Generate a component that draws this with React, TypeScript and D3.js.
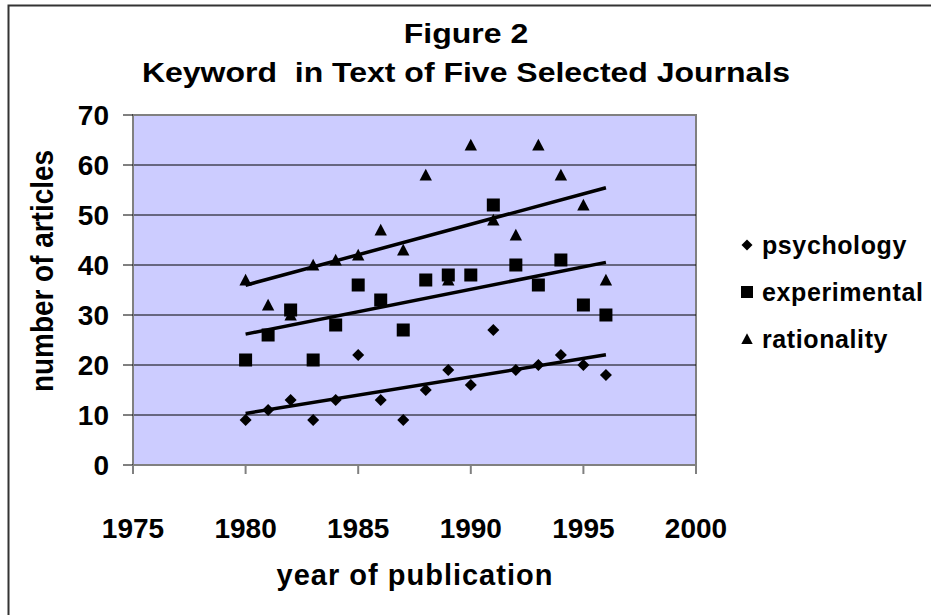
import React from 'react';
import * as d3 from 'd3';

// years on the x axis
const years = [1980, 1981, 1982, 1983, 1984, 1985, 1986, 1987, 1988, 1989, 1990, 1991, 1992, 1993, 1994, 1995, 1996];

// article counts
const psychology = [9, 11, 13, 9, 13, 22, 13, 9, 15, 19, 16, 27, 19, 20, 22, 20, 18];
const experimental = [21, 26, 31, 21, 28, 36, 33, 27, 37, 38, 38, 52, 40, 36, 41, 32, 30];
const rationality = [37, 32, 30, 40, 41, 42, 47, 43, 58, 37, 64, 49, 46, 64, 58, 52, 37];

const xTicks = [1975, 1980, 1985, 1990, 1995, 2000];
const yTicks = [0, 10, 20, 30, 40, 50, 60, 70];
const seriesNames = ['psychology', 'experimental', 'rationality'];

const W = 931;
const H = 615;
const FONT = '"Liberation Sans", Arial, Helvetica, sans-serif';

// least squares trend line
function trend(xs: number[], ys: number[]) {
  const mx = d3.mean(xs) as number;
  const my = d3.mean(ys) as number;
  let num = 0;
  let den = 0;
  xs.forEach((x, i) => {
    num += (x - mx) * (ys[i] - my);
    den += (x - mx) * (x - mx);
  });
  const b = num / den;
  const a = my - b * mx;
  return (x: number) => a + b * x;
}

const Marker: React.FC<{ kind: number; x: number; y: number; s?: number }> = ({ kind, x, y, s = 13 }) => {
  const h = s / 2;
  if (kind === 0) {
    return <path d={`M${x},${y - h}L${x + h},${y}L${x},${y + h}L${x - h},${y}Z`} fill="#000" />;
  }
  if (kind === 1) {
    return <rect x={x - h} y={y - h} width={s} height={s} fill="#000" />;
  }
  return <path d={`M${x},${y - h * 0.95}L${x + h * 0.95},${y + h * 0.85}L${x - h * 0.95},${y + h * 0.85}Z`} fill="#000" />;
};

export default function App() {
  const x = d3.scaleLinear().domain([1975, 2000]).range([133, 696]);
  const y = d3.scaleLinear().domain([0, 70]).range([465, 115]);
  const all = [psychology, experimental, rationality];
  const markerSize = [12, 13, 13];
  const x0 = years[0];
  const x1 = years[years.length - 1];

  return (
    <svg width={W} height={H} style={{ position: 'absolute', left: 0, top: 0, background: '#fff' }} fontFamily={FONT} fontWeight="bold">
      <rect x={8.5} y={5.5} width={1000} height={1000} fill="none" stroke="#333" strokeWidth={2} />

      {/* titles: slightly squat glyphs like the original */}
      <g transform="translate(466,43) scale(1,0.88)">
        <text textAnchor="middle" fontSize={32}>Figure 2</text>
      </g>
      <g transform="translate(466,82) scale(1,0.88)">
        <text textAnchor="middle" fontSize={32} style={{ whiteSpace: 'pre' }}>Keyword  in Text of Five Selected Journals</text>
      </g>

      {/* plot area */}
      <rect x={x(1975)} y={y(70)} width={x(2000) - x(1975)} height={y(0) - y(70)} fill="#ccccff" stroke="#808080" strokeWidth={2} />
      {yTicks.slice(1, -1).map(t => (
        <line key={t} x1={x(1975)} x2={x(2000)} y1={y(t)} y2={y(t)} stroke="#000" strokeWidth={1} />
      ))}

      {/* y axis */}
      <line x1={x(1975)} x2={x(1975)} y1={y(0)} y2={y(70)} stroke="#808080" strokeWidth={2} />
      {yTicks.map(t => (
        <g key={t}>
          <line x1={x(1975) - 10} x2={x(1975)} y1={y(t)} y2={y(t)} stroke="#000" strokeWidth={1} />
          <text x={x(1975) - 24} y={y(t)} dy="0.36em" textAnchor="end" fontSize={28}>{t}</text>
        </g>
      ))}

      {/* x axis */}
      <line x1={x(1975)} x2={x(2000)} y1={y(0)} y2={y(0)} stroke="#808080" strokeWidth={2} />
      {xTicks.map(t => (
        <g key={t}>
          <line x1={x(t)} x2={x(t)} y1={y(0)} y2={y(0) + 9} stroke="#808080" strokeWidth={2} />
          <text x={x(t)} y={538} textAnchor="middle" fontSize={28}>{t}</text>
        </g>
      ))}

      <text x={415} y={585} textAnchor="middle" fontSize={29} letterSpacing={1}>year of publication</text>
      <g transform="translate(53,271) rotate(-90)">
        <text textAnchor="middle" fontSize={32} textLength={242} lengthAdjust="spacingAndGlyphs">number of articles</text>
      </g>

      {/* trend lines */}
      {all.map((vals, i) => {
        const f = trend(years, vals);
        return <line key={i} x1={x(x0)} x2={x(x1)} y1={y(f(x0))} y2={y(f(x1))} stroke="#000" strokeWidth={3.5} />;
      })}

      {/* markers */}
      {all.map((vals, i) => (
        <g key={i}>
          {vals.map((v, j) => <Marker key={j} kind={i} x={x(years[j])} y={y(v)} s={markerSize[i]} />)}
        </g>
      ))}

      {/* legend */}
      {seriesNames.map((n, i) => (
        <g key={n} transform={`translate(747,${245 + i * 47})`}>
          <Marker kind={i} x={0} y={0} s={i === 0 ? 11 : 12} />
          <text x={15} y={0} dy="0.36em" fontSize={25} letterSpacing={0.6}>{n}</text>
        </g>
      ))}
    </svg>
  );
}
